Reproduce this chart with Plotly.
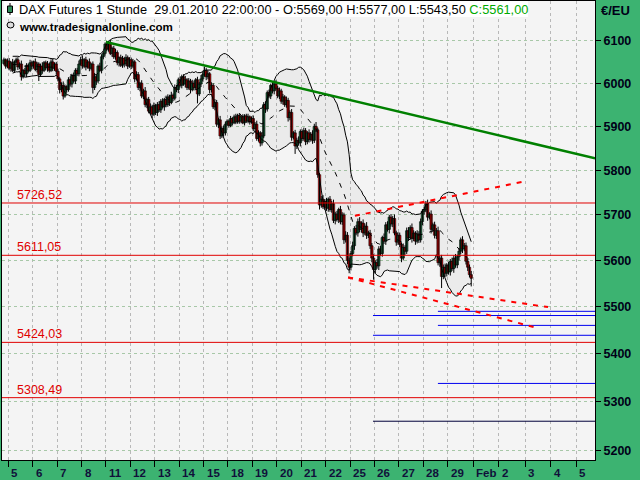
import math
import numpy as np
import pandas as pd
import plotly.graph_objects as go

# ---------------- data ----------------
first_open = 6046
# hourly closes: 3 bars of Jan 4, then 14 bars per trading day Jan 5 .. Jan 29
closes = [
    6055, 6040, 6052,
    6035, 6048, 6030, 6050, 6055, 6038, 6045, 6015, 6030, 6022, 6042, 6030, 6048, 6040,
    6050, 6032, 6045, 6020, 6040, 6030, 6048, 6036, 6045, 6030, 6050, 6035, 6045, 6028,
    6010, 5985, 5995, 5970, 5992, 5985, 6008, 5998, 6018, 6005, 6030, 6022, 6045, 6055,
    6040, 6055, 6038, 6050, 6035, 6045, 5990, 6015, 6005, 6040, 6030, 6062, 6070, 6092,
    6080, 6095, 6070, 6082, 6062, 6072, 6048, 6060, 6042, 6058, 6045, 6060, 6040, 6055,
    6040, 6050, 6010, 6020, 5990, 6000, 5970, 5982, 5950, 5962, 5935, 5945, 5928, 5948,
    5932, 5950, 5938, 5958, 5945, 5962, 5950, 5968, 5955, 5972, 5965, 5990, 5985, 6008,
    5995, 6015, 5998, 6008, 5990, 6005, 5985, 6000, 5990, 6008, 5975, 5998, 6010, 6020,
    6030, 6015, 6022, 5985, 5995, 5945, 5955, 5905, 5915, 5878, 5895, 5885, 5905, 5912,
    5902, 5918, 5908, 5922, 5910, 5925, 5912, 5922, 5908, 5924, 5912, 5922, 5910, 5918,
    5895, 5905, 5872, 5885, 5862, 5878, 5950, 5940, 5978, 5970, 5995, 5982, 5998, 5988,
    5970, 5982, 5958, 5968, 5950, 5960, 5920, 5932, 5875, 5885, 5855, 5868, 5862, 5888,
    5872, 5890, 5865, 5885, 5870, 5882, 5868, 5900, 5892, 5790, 5722, 5735, 5718, 5730,
    5715, 5735, 5712, 5725, 5688, 5702, 5690, 5712, 5685, 5700, 5645, 5655, 5600, 5585,
    5615, 5632, 5670, 5660, 5685, 5668, 5682, 5660, 5675, 5655, 5660, 5632, 5605, 5580,
    5595, 5588, 5625, 5615, 5650, 5642, 5678, 5668, 5695, 5680, 5692, 5660, 5640, 5655,
    5635, 5605, 5628, 5620, 5665, 5650, 5672, 5648, 5660, 5642, 5658, 5645, 5685, 5708,
    5712, 5725, 5695, 5702, 5668, 5678, 5655, 5665, 5595, 5605, 5565, 5585, 5572, 5590,
    5575, 5598, 5582, 5605, 5590, 5608, 5620, 5645, 5625, 5632, 5598, 5585, 5569, 5561,
]
# upper / lower shadow lengths (points beyond the body)
wick_up = [
    5, 3, 6,
    7, 4, 9, 3, 5, 6, 4, 8, 3, 6, 5, 4, 7, 5,
    3, 8, 5, 4, 6, 9, 4, 5, 7, 3, 6, 8, 4, 5,
    6, 4, 7, 9, 5, 3, 6, 8, 4, 7, 5, 6, 8, 7,
    10, 4, 7, 5, 8, 3, 6, 9, 5, 4, 8, 6, 5, 4,
    7, 5, 8, 4, 6, 9, 5, 3, 7, 6, 4, 8, 5, 6,
    5, 7, 4, 8, 6, 3, 7, 5, 9, 4, 6, 8, 5, 7,
    4, 6, 8, 5, 7, 4, 9, 6, 5, 8, 4, 7, 6, 5,
    8, 5, 6, 9, 4, 7, 5, 8, 6, 4, 7, 5, 9, 6,
    9, 6, 8, 4, 7, 5, 8, 6, 4, 9, 5, 7, 6, 4,
    4, 6, 3, 5, 7, 4, 5, 3, 6, 4, 5, 7, 3, 5,
    7, 5, 8, 6, 4, 9, 6, 8, 5, 7, 4, 8, 6, 9,
    6, 8, 5, 7, 4, 9, 6, 5, 8, 4, 7, 6, 9, 5,
    5, 7, 6, 4, 8, 5, 9, 6, 10, 5, 4, 7, 9, 5,
    8, 4, 7, 6, 9, 5, 7, 4, 8, 6, 5, 9, 7, 6,
    6, 9, 5, 8, 7, 10, 4, 8, 6, 9, 5, 7, 6, 8,
    5, 8, 6, 7, 4, 9, 6, 8, 5, 7, 6, 9, 5, 7,
    6, 4, 9, 5, 7, 8, 5, 9, 6, 4, 8, 6, 7, 5,
    5, 6, 9, 4, 8, 5, 7, 6, 9, 5, 7, 6, 8, 4,
    7, 5, 8, 6, 9, 4, 7, 5, 8, 6, 7, 5, 6, 8,
]
wick_dn = [
    4, 6, 5,
    5, 8, 4, 6, 3, 7, 5, 9, 4, 6, 8, 5, 4, 7,
    6, 4, 7, 15, 5, 8, 4, 6, 9, 5, 4, 7, 6, 8,
    5, 9, 6, 8, 4, 7, 5, 6, 8, 4, 7, 5, 6, 4,
    6, 5, 8, 4, 7, 5, 14, 6, 9, 5, 4, 7, 6, 5,
    5, 6, 4, 8, 5, 7, 6, 9, 4, 6, 8, 5, 7, 4,
    7, 5, 8, 4, 6, 9, 5, 7, 6, 8, 5, 7, 9, 4,
    6, 8, 5, 7, 4, 9, 6, 5, 8, 4, 7, 5, 6, 8,
    5, 7, 4, 8, 6, 5, 9, 4, 7, 6, 22, 5, 7, 6,
    5, 8, 6, 9, 7, 5, 8, 6, 9, 7, 5, 8, 6, 5,
    5, 4, 6, 3, 5, 4, 6, 5, 3, 6, 4, 5, 6, 4,
    6, 8, 5, 7, 8, 6, 5, 9, 6, 5, 7, 6, 8, 5,
    5, 7, 6, 8, 5, 7, 9, 6, 8, 5, 18, 7, 6, 8,
    6, 5, 8, 6, 7, 5, 8, 6, 5, 7, 10, 6, 5, 7,
    6, 8, 5, 7, 6, 9, 5, 8, 6, 7, 9, 6, 8, 13,
    7, 6, 9, 5, 8, 6, 7, 9, 5, 8, 6, 7, 9, 22,
    8, 6, 9, 5, 7, 6, 8, 5, 9, 6, 7, 5, 8, 6,
    6, 9, 5, 8, 6, 7, 5, 9, 6, 8, 5, 7, 6, 8,
    7, 6, 8, 5, 9, 6, 7, 8, 6, 9, 25, 6, 8, 7,
    6, 8, 5, 9, 6, 7, 8, 6, 9, 5, 7, 8, 6, 17.5,
]
assert len(closes) == len(wick_up) == len(wick_dn) == 3 + 19 * 14, \
    (len(closes), len(wick_up), len(wick_dn))

day_labels = ['5', '6', '7', '8', '11', '12', '13', '14', '15', '18', '19', '20', '21',
              '22', '25', '26', '27', '28', '29', 'Feb', '2', '3', '4', '5']

red_levels = [5726.52, 5611.05, 5424.03, 5308.49]
blue_levels = [5490, 5481, 5460, 5439, 5338]
blue_from = [17.6, 14.94, 17.6, 14.94, 17.6]
dark_level = 5260
dark_from = 14.94

trend_x = [4.0, 24.04]
trend_y = [6097, 5827]
wedge_up_x = [14.2, 21.17]
wedge_up_y = [5698, 5775]
wedge_lo1_x = [13.92, 22.11]
wedge_lo1_y = [5563, 5499]
wedge_lo2_x = [13.92, 21.70]
wedge_lo2_y = [5563, 5454]

y_ticks = [5200, 5300, 5400, 5500, 5600, 5700, 5800, 5900, 6000, 6100]

# ---------------- geometry ----------------
BARS = 14
n = len(closes)
xs = np.array([(k + 11.5) / BARS - 1 for k in range(n)])
opens = [first_open] + closes[:-1]
highs = [max(o, c) + w for o, c, w in zip(opens, closes, wick_up)]
lows = [min(o, c) - w for o, c, w in zip(opens, closes, wick_dn)]

day_pos = list(range(19)) + [19.05, 20.1, 21.17, 22.22, 23.26]
X0, X1 = -0.258, 24.035
Y0, Y1 = 5181.2, 6195.1

# Bollinger bands (20, 2)
s = pd.Series(closes, dtype=float)
mid = s.rolling(20, min_periods=6).mean()
sd = s.rolling(20, min_periods=6).std(ddof=1)
upper = mid + 2 * sd
lower = mid - 2 * sd

FONT = 'Liberation Sans'

fig = go.Figure()
fig.add_trace(go.Scatter(x=xs, y=lower, mode='lines', line=dict(color='black', width=1),
                         hoverinfo='skip', showlegend=False))
fig.add_trace(go.Scatter(x=xs, y=upper, mode='lines', line=dict(color='black', width=1),
                         fill='tonexty', fillcolor='rgba(0,0,0,0.035)',
                         hoverinfo='skip', showlegend=False))
fig.add_trace(go.Scatter(x=xs, y=mid, mode='lines',
                         line=dict(color='black', width=1, dash='5px,7px'),
                         hoverinfo='skip', showlegend=False))

# candles: black wicks + coloured bodies with black outline
wx, wy = [], []
for x, h, l in zip(xs, highs, lows):
    wx += [x, x, None]
    wy += [l, h, None]
fig.add_trace(go.Scatter(x=wx, y=wy, mode='lines', line=dict(color='black', width=1),
                         hoverinfo='skip', showlegend=False))
body_lo = [min(o, c) for o, c in zip(opens, closes)]
body_h = [max(abs(c - o), 1.0) for o, c in zip(opens, closes)]
body_col = ['#23874f' if c >= o else '#ff0000' for o, c in zip(opens, closes)]
fig.add_trace(go.Bar(x=xs, y=body_h, base=body_lo, width=0.1,
                     marker=dict(color=body_col, line=dict(color='black', width=0.6)),
                     hoverinfo='skip', showlegend=False))

def hline(y, x_from, color, width=1):
    fig.add_trace(go.Scatter(x=[x_from, X1], y=[y, y], mode='lines',
                             line=dict(color=color, width=width),
                             hoverinfo='skip', showlegend=False))

for lv in red_levels:
    hline(lv, X0, '#e00000')
for lv, xf in zip(blue_levels, blue_from):
    hline(lv, xf, '#0000ee')
hline(dark_level, dark_from, '#00003a')

fig.add_trace(go.Scatter(x=trend_x, y=trend_y, mode='lines',
                         line=dict(color='#008000', width=2.5),
                         hoverinfo='skip', showlegend=False))
for wxx, wyy in [(wedge_up_x, wedge_up_y), (wedge_lo1_x, wedge_lo1_y), (wedge_lo2_x, wedge_lo2_y)]:
    fig.add_trace(go.Scatter(x=wxx, y=wyy, mode='lines',
                             line=dict(color='#ff0000', width=2, dash='5px,6px'),
                             hoverinfo='skip', showlegend=False))

# ---------------- annotations ----------------
ann = []
for lv in red_levels:
    ann.append(dict(x=0.27, y=math.log10(lv), xref='x', yref='y',
                    text=f'{lv:.2f}'.replace('.', ','), showarrow=False,
                    xanchor='left', yanchor='bottom', yshift=-1,
                    font=dict(family=FONT, size=12.5, color='#e00000')))
for p, lab in zip(day_pos, day_labels):
    ann.append(dict(x=p, y=0, xref='x', yref='paper', text=lab, showarrow=False,
                    xanchor='left', yanchor='top', xshift=1, yshift=-5,
                    font=dict(family=FONT, size=11.5, color='#10103a', weight='bold')))

def fmt(v):
    return f'{v:.2f}'.replace('.', ',')

header = ('DAX Futures 1 Stunde&nbsp;&nbsp;29.01.2010 22:00:00 - '
          f'O:{fmt(opens[-1])} H:{fmt(highs[-1])} L:{fmt(lows[-1])} '
          f"<span style='color:#00aa00'>C:{fmt(closes[-1])}</span>")

def px2x(px):
    return (px - 2) / 593.0

def py2y(py):
    return (460 - py) / 459.0

ann.append(dict(x=px2x(17), y=py2y(9.5), xref='paper', yref='paper', text=header,
                showarrow=False, xanchor='left', yanchor='middle',
                font=dict(family=FONT, size=12.8, color='black')))
ann.append(dict(x=px2x(17), y=py2y(26.5), xref='paper', yref='paper',
                text='www.tradesignalonline.com', showarrow=False,
                xanchor='left', yanchor='middle',
                font=dict(family=FONT, size=11.6, color='black', weight='bold')))
ann.append(dict(x=px2x(599), y=py2y(10), xref='paper', yref='paper', text='€/EU',
                showarrow=False, xanchor='left', yanchor='middle',
                font=dict(family=FONT, size=13, color='#000018', weight='bold')))

shapes = [
    dict(type='rect', xref='paper', yref='paper', x0=px2x(4), x1=px2x(528),
         y0=py2y(17), y1=py2y(1), fillcolor='white', line=dict(width=0), layer='above'),
    dict(type='line', xref='paper', yref='paper', x0=px2x(10), x1=px2x(10),
         y0=py2y(15), y1=py2y(3), line=dict(color='black', width=1), layer='above'),
    dict(type='rect', xref='paper', yref='paper', x0=px2x(7.5), x1=px2x(12.5),
         y0=py2y(12.5), y1=py2y(6), fillcolor='#2e8b57', line=dict(color='black', width=1),
         layer='above'),
    dict(type='circle', xref='paper', yref='paper', x0=px2x(7), x1=px2x(14),
         y0=py2y(28), y1=py2y(22), fillcolor='#dddddd', line=dict(color='black', width=1),
         layer='above'),
]

fig.update_layout(
    width=640, height=480,
    margin=dict(l=2, r=45, t=1, b=20),
    paper_bgcolor='#3cb371', plot_bgcolor='#f4f4f4',
    showlegend=False, barmode='overlay',
    annotations=ann, shapes=shapes,
    xaxis=dict(range=[X0, X1], tickvals=day_pos, showticklabels=False,
               ticks='outside', ticklen=6, tickcolor='black', tickwidth=1,
               showgrid=True, gridcolor='#b8b8b8', griddash='dot', gridwidth=1,
               showline=True, mirror=True, linecolor='black', linewidth=1,
               zeroline=False, fixedrange=True),
    yaxis=dict(type='log', range=[math.log10(Y0), math.log10(Y1)], side='right',
               tickvals=y_ticks, ticktext=[str(v) for v in y_ticks],
               ticks='outside', ticklen=5, tickcolor='black',
               tickfont=dict(family=FONT, size=12.5, color='#000018', weight='bold'),
               showgrid=True, gridcolor='#a8c8a8', griddash='dot', gridwidth=1,
               showline=True, mirror=True, linecolor='black', linewidth=1,
               zeroline=False, fixedrange=True),
)

fig.write_html('out.html', config={'displayModeBar': False},
               post_script="document.body.style.margin='0';document.body.style.padding='0';")
